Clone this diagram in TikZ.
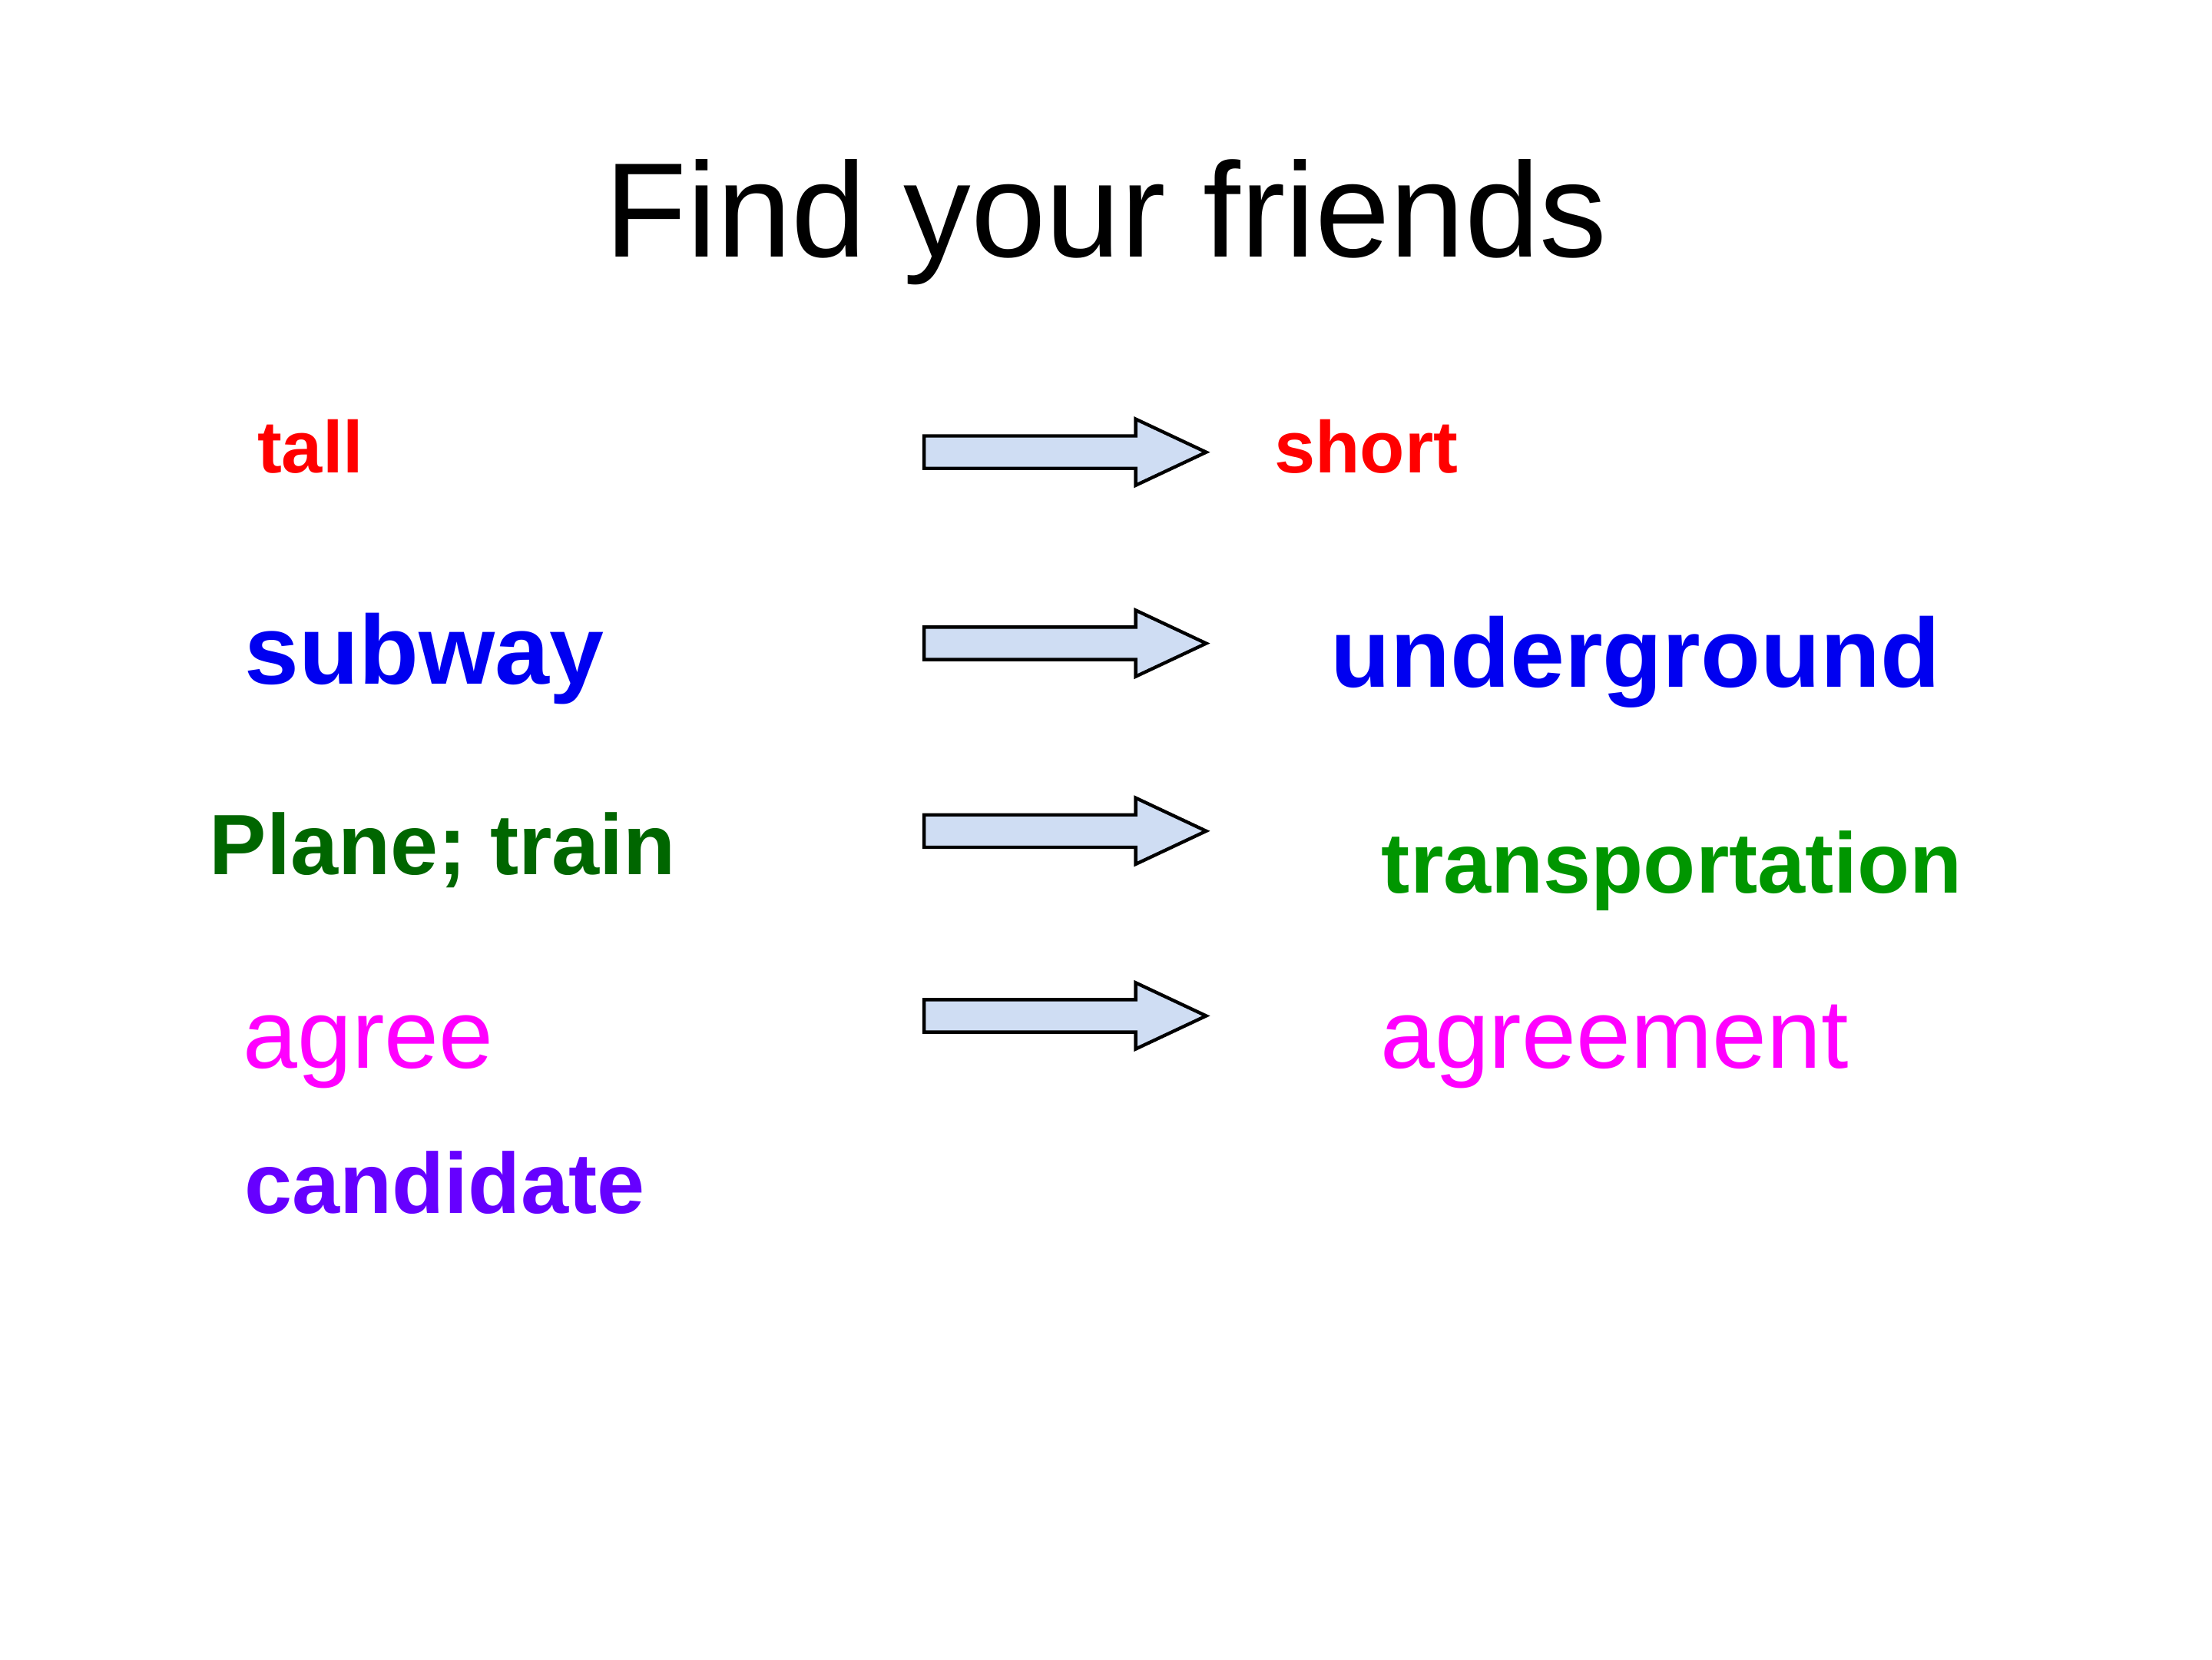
\documentclass[tikz,border=0pt]{standalone}
\usepackage{fontspec}
\setmainfont{Liberation Sans}
\usetikzlibrary{positioning}
\definecolor{wordred}{RGB}{255,0,0}
\definecolor{wordblue}{RGB}{0,0,240}
\definecolor{darkleaf}{RGB}{0,102,0}
\definecolor{leaf}{RGB}{0,150,0}
\definecolor{pinkish}{RGB}{255,0,255}
\definecolor{violet}{RGB}{102,0,255}
\definecolor{arrowfill}{RGB}{207,221,243}

\begin{document}
\begin{tikzpicture}[
    x=0.0162cm, y=-0.0162cm,
    word/.style={anchor=base west, inner sep=0pt, font=\bfseries\fontsize{#1}{#1}\selectfont},
    thinword/.style={anchor=base west, inner sep=0pt, font=\fontsize{#1}{#1}\selectfont},
    bigarrow/.style={draw=black, fill=arrowfill, line width=1.1pt, line join=miter}
  ]

  \fill[white] (0,0) rectangle (1568,1176);
  \useasboundingbox (0,0) rectangle (1568,1176);

  % --- TITLE ---
  \node[anchor=base, inner sep=0pt, font=\fontsize{44}{44}\selectfont] (title) at (784,182) {Find your friends};

  % --- LEFT WORDS ---
  \node[word=24, text=wordred] (tall) at (182,335) {tall};
  \node[word=32, text=wordblue] (subway) at (173,485) {subway};
  \node[word=28, text=darkleaf] (plane) at (148,620) {Plane; train};
  \node[thinword=32, text=pinkish] (agree) at (172,757) {agree};
  \node[word=28, text=violet] (candidate) at (173,860) {candidate};

  % --- RIGHT WORDS ---
  \node[word=24, text=wordred] (short) at (903,335) {short};
  \node[word=32, text=wordblue] (underground) at (943,487) {underground};
  \node[word=28, text=leaf] (transport) at (979,633) {transportation};
  \node[thinword=32, text=pinkish] (agreement) at (978,757) {agreement};

  % --- ARROWS ---
  \foreach \y in {320.5,456,589,720}
    \draw[bigarrow] (655,{\y-11.5}) -- (805,{\y-11.5}) -- (805,{\y-23.5}) -- (855,\y)
      -- (805,{\y+23.5}) -- (805,{\y+11.5}) -- (655,{\y+11.5}) -- cycle;

\end{tikzpicture}
\end{document}
